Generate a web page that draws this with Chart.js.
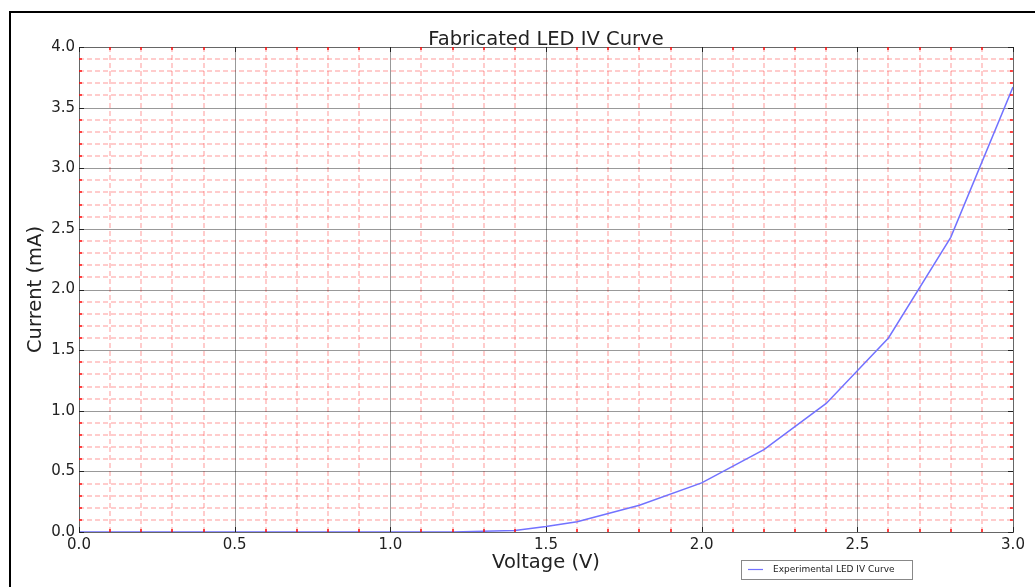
<!DOCTYPE html>
<html>
<head>
<meta charset="utf-8">
<script src="https://cdn.jsdelivr.net/npm/chart.js@4/dist/chart.umd.min.js"></script>
<style>
  html, body { margin: 0; padding: 0; background: #fff; }
  canvas { display: block; }
</style>
</head>
<body>
<canvas id="iv" width="1035" height="587"></canvas>
<script>
// ------- data -------
const voltage = [0.0, 0.2, 0.4, 0.6, 0.8, 1.0, 1.2, 1.4, 1.5, 1.6, 1.8, 2.0, 2.2, 2.4, 2.6, 2.8, 3.0];
const current = [0.0, 0.0, 0.0, 0.0, 0.0, 0.0, 0.001, 0.012, 0.045, 0.085, 0.22, 0.405, 0.68, 1.06, 1.60, 2.43, 3.67];
const xTicks = [0.0, 0.5, 1.0, 1.5, 2.0, 2.5, 3.0];
const yTicks = [0.0, 0.5, 1.0, 1.5, 2.0, 2.5, 3.0, 3.5, 4.0];
const minorStep = 0.1;
const seriesLabel = 'Experimental LED IV Curve';
const chartTitle = 'Fabricated LED IV Curve';

const FONT = '"DejaVu Sans", sans-serif';

// grid, spines, ticks, title, legend and frame drawn matplotlib-style
const mplDecor = {
  id: 'mplDecor',
  beforeDatasetsDraw(chart) {
    const { ctx, chartArea: a, scales: { x, y } } = chart;
    ctx.save();
    ctx.lineWidth = 1;
    // minor grid (red dashed, soft)
    ctx.strokeStyle = 'rgba(255,0,0,0.4)';
    ctx.setLineDash([5, 3]);
    for (let i = 1; i < Math.round(x.max / minorStep); i++) {
      if (i % 5 === 0) continue;
      const px = Math.round(x.getPixelForValue(i * minorStep));
      ctx.beginPath(); ctx.moveTo(px, a.top); ctx.lineTo(px, a.bottom); ctx.stroke();
    }
    for (let i = 1; i < Math.round(y.max / minorStep); i++) {
      if (i % 5 === 0) continue;
      const py = Math.round(y.getPixelForValue(i * minorStep));
      ctx.beginPath(); ctx.moveTo(a.left, py); ctx.lineTo(a.right, py); ctx.stroke();
    }
    // major grid
    ctx.setLineDash([]);
    ctx.strokeStyle = 'rgba(0,0,0,0.4)';
    xTicks.forEach(v => {
      const px = Math.round(x.getPixelForValue(v)) + 0.5;
      ctx.beginPath(); ctx.moveTo(px, a.top); ctx.lineTo(px, a.bottom); ctx.stroke();
    });
    yTicks.forEach(v => {
      const py = Math.round(y.getPixelForValue(v)) + 0.5;
      ctx.beginPath(); ctx.moveTo(a.left, py); ctx.lineTo(a.right, py); ctx.stroke();
    });
    ctx.restore();
  },
  afterDatasetsDraw(chart) {
    const { ctx, chartArea: a, scales: { x, y } } = chart;
    ctx.save();
    // spines
    ctx.strokeStyle = '#666';
    ctx.lineWidth = 1;
    ctx.strokeRect(Math.round(a.left) + 0.5, Math.round(a.top) + 0.5,
      Math.round(a.right - a.left), Math.round(a.bottom - a.top));
    // minor ticks (red, inward, all sides)
    ctx.strokeStyle = 'rgba(255,0,0,0.9)';
    ctx.lineWidth = 1.5;
    for (let i = 1; i < Math.round(x.max / minorStep); i++) {
      if (i % 5 === 0) continue;
      const px = Math.round(x.getPixelForValue(i * minorStep));
      ctx.beginPath(); ctx.moveTo(px, a.bottom); ctx.lineTo(px, a.bottom - 3); ctx.stroke();
      ctx.beginPath(); ctx.moveTo(px, a.top); ctx.lineTo(px, a.top + 3); ctx.stroke();
    }
    for (let i = 1; i < Math.round(y.max / minorStep); i++) {
      if (i % 5 === 0) continue;
      const py = Math.round(y.getPixelForValue(i * minorStep));
      ctx.beginPath(); ctx.moveTo(a.left, py); ctx.lineTo(a.left + 3, py); ctx.stroke();
      ctx.beginPath(); ctx.moveTo(a.right, py); ctx.lineTo(a.right - 3, py); ctx.stroke();
    }
    // major ticks
    ctx.strokeStyle = '#222';
    ctx.lineWidth = 1;
    xTicks.forEach(v => {
      const px = Math.round(x.getPixelForValue(v)) + 0.5;
      ctx.beginPath(); ctx.moveTo(px, a.bottom); ctx.lineTo(px, a.bottom - 5); ctx.stroke();
      ctx.beginPath(); ctx.moveTo(px, a.top); ctx.lineTo(px, a.top + 5); ctx.stroke();
    });
    yTicks.forEach(v => {
      const py = Math.round(y.getPixelForValue(v)) + 0.5;
      ctx.beginPath(); ctx.moveTo(a.left, py); ctx.lineTo(a.left + 5, py); ctx.stroke();
      ctx.beginPath(); ctx.moveTo(a.right, py); ctx.lineTo(a.right - 5, py); ctx.stroke();
    });
    ctx.restore();
  },
  afterDraw(chart) {
    const { ctx, chartArea: a } = chart;
    ctx.save();
    // title
    ctx.fillStyle = '#222';
    ctx.font = '19.5px ' + FONT;
    ctx.textAlign = 'center';
    ctx.textBaseline = 'alphabetic';
    ctx.fillText(chartTitle, (a.left + a.right) / 2, 45);
    // legend box
    ctx.fillStyle = '#fff';
    ctx.fillRect(741, 560, 171, 19);
    ctx.strokeStyle = '#888';
    ctx.lineWidth = 1;
    ctx.strokeRect(741.5, 560.5, 171, 19);
    ctx.strokeStyle = chart.data.datasets[0].borderColor;
    ctx.lineWidth = 1.2;
    ctx.beginPath(); ctx.moveTo(748, 569.5); ctx.lineTo(763, 569.5); ctx.stroke();
    ctx.fillStyle = '#222';
    ctx.font = '9px ' + FONT;
    ctx.textAlign = 'left';
    ctx.textBaseline = 'middle';
    ctx.fillText(seriesLabel, 773, 570);
    // figure frame
    ctx.strokeStyle = '#000';
    ctx.lineWidth = 2;
    ctx.strokeRect(10, 12, 1100, 700);
    ctx.restore();
  }
};

const ctx = document.getElementById('iv').getContext('2d');
new Chart(ctx, {
  type: 'line',
  data: {
    datasets: [{
      label: seriesLabel,
      data: voltage.map((v, i) => ({ x: v, y: current[i] })),
      borderColor: '#7272ff',
      borderWidth: 1.5,
      pointRadius: 0,
      tension: 0,
      fill: false
    }]
  },
  options: {
    responsive: false,
    animation: false,
    layout: { padding: { top: 47, right: 22, left: 0, bottom: 0 } },
    plugins: { legend: { display: false }, title: { display: false }, tooltip: { enabled: false } },
    scales: {
      x: {
        type: 'linear', min: 0, max: 3,
        afterBuildTicks: s => { s.ticks = xTicks.map(v => ({ value: v })); },
        afterFit: s => { s.height = 55; },
        grid: { display: false, drawTicks: false },
        border: { display: false },
        ticks: { color: '#222', font: { family: FONT, size: 15 }, padding: 4, maxRotation: 0, autoSkip: false,
                 callback: v => Number(v).toFixed(1) },
        title: { display: true, text: 'Voltage (V)', color: '#222', font: { family: FONT, size: 19.5 },
                 padding: { top: 0, bottom: 12 } }
      },
      y: {
        type: 'linear', min: 0, max: 4,
        afterBuildTicks: s => { s.ticks = yTicks.map(v => ({ value: v })); },
        afterFit: s => { s.width = 79; },
        grid: { display: false, drawTicks: false },
        border: { display: false },
        ticks: { color: '#222', font: { family: FONT, size: 15 }, padding: 4, autoSkip: false,
                 callback: v => Number(v).toFixed(1) },
        title: { display: true, text: 'Current (mA)', color: '#222', font: { family: FONT, size: 19.5 },
                 padding: { top: 24, bottom: 0 } }
      }
    }
  },
  plugins: [mplDecor]
});
</script>
</body>
</html>
